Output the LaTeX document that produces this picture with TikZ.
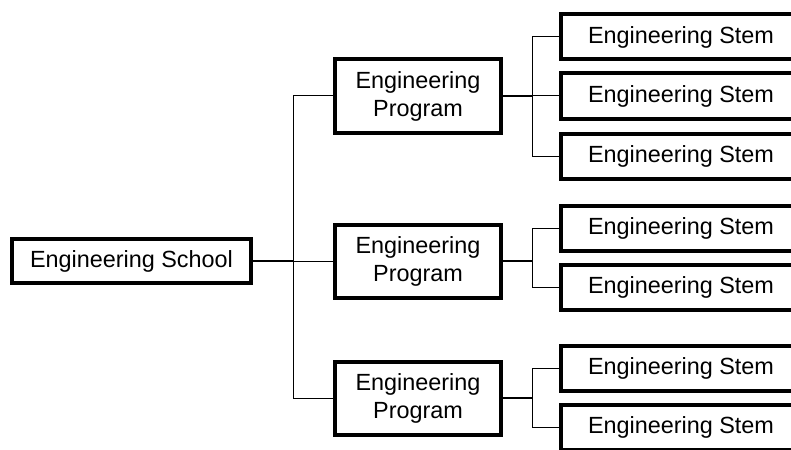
\documentclass[tikz,border=0pt]{standalone}
\usepackage{fontspec}
\setmainfont{Liberation Sans}
\usepackage{tikz}

\begin{document}
\begin{tikzpicture}[x=0.5pt,y=-0.5pt,
    box/.style={draw, line width=2pt, inner sep=0pt, align=center,
        font=\fontsize{11.7}{14}\selectfont},
    school/.style={box, minimum width=119.5pt, minimum height=22pt},
    program/.style={box, minimum width=83pt, minimum height=36.5pt},
    stem/.style={box, minimum width=120pt, minimum height=22.5pt},
    trunk/.style={line width=1pt},
    branch/.style={line width=0.5pt}]
                    \useasboundingbox (0,0) rectangle (791,449);
                    \clip (0,0) rectangle (791,449);
                    \node[school] (school) at (131.5,261) {Engineering School};
                    \node[program] (prog1) at (418,96) {Engineering\\Program};
                    \node[program] (prog2) at (418,261) {Engineering\\Program};
                    \node[program] (prog3) at (418,398) {Engineering\\Program};
                    \node[stem] (stem1) at (681,37) {Engineering Stem};
                    \node[stem] (stem2) at (681,96) {Engineering Stem};
                    \node[stem] (stem3) at (681,156) {Engineering Stem};
                    \node[stem] (stem4) at (681,228) {Engineering Stem};
                    \node[stem] (stem5) at (681,287) {Engineering Stem};
                    \node[stem] (stem6) at (681,368) {Engineering Stem};
                    \node[stem] (stem7) at (681,427) {Engineering Stem};
                    \coordinate (js) at (293,261);
                    \coordinate (j1) at (532,96);
                    \coordinate (j2) at (532,261);
                    \coordinate (j3) at (532,398);
                    \draw[trunk] (school) -- (js);
                    \draw[branch] (js) |- (prog1.west);
                    \draw[branch] (js) -- (prog2.west);
                    \draw[branch] (js) |- (prog3.west);
                    \draw[trunk] (prog1) -- (j1);
                    \draw[trunk] (prog2) -- (j2);
                    \draw[trunk] (prog3) -- (j3);
                    \draw[branch] (j1) |- (stem1.west);
                    \draw[branch] (j1) -- (stem2.west);
                    \draw[branch] (j1) |- (stem3.west);
                    \draw[branch] (j2) |- (stem4.west);
                    \draw[branch] (j2) |- (stem5.west);
                    \draw[branch] (j3) |- (stem6.west);
                    \draw[branch] (j3) |- (stem7.west);
                \end{tikzpicture}
\end{document}
